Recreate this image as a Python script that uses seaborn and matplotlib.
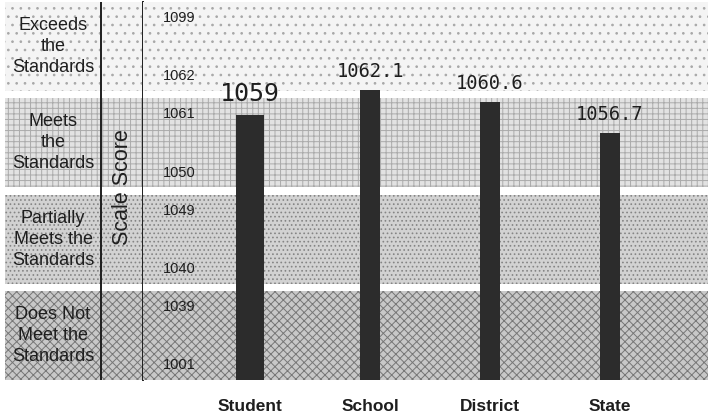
import numpy as np
import pandas as pd
import matplotlib
matplotlib.use('Agg')
import matplotlib.pyplot as plt
import seaborn as sns

# Chart data
groups = ['Student', 'School', 'District', 'State']
scores = [1059.0, 1062.1, 1060.6, 1056.7]
score_labels = ['1059', '1062.1', '1060.6', '1056.7']

# Performance levels, bottom to top
levels = [
    'Does Not\nMeet the\nStandards',
    'Partially\nMeets the\nStandards',
    'Meets\nthe\nStandards',
    'Exceeds\nthe\nStandards',
]
level_low = [1001, 1040, 1050, 1062]
level_high = [1039, 1049, 1061, 1099]

# Band looks (scanned screen tones)
band_faces = ['#c8c8c8', '#d2d2d2', '#e2e2e2', '#f4f4f4']
band_hatches = ['xxxx', '....', '+++', '..']
band_hatch_colors = ['#777777', '#858585', '#ababab', '#a8a8a8']
bar_color = '#2c2c2c'
text_color = '#1e1e1e'

# Each level gets the same height on the axis: piecewise linear scale
GAP = 0.04
knot_vals, knot_pos = [], []
for i, (lo, hi) in enumerate(zip(level_low, level_high)):
    knot_vals += [lo, hi]
    knot_pos += [i + GAP, i + 1 - GAP]
knot_vals = np.array(knot_vals, dtype=float)
knot_pos = np.array(knot_pos, dtype=float)


def forward(v):
    return np.interp(v, knot_vals, knot_pos)


def inverse(p):
    return np.interp(p, knot_pos, knot_vals)


sns.set_style('white')
plt.rcParams['font.family'] = ['Liberation Sans', 'DejaVu Sans']
plt.rcParams['hatch.linewidth'] = 0.7

W, H = 708, 417
fig = plt.figure(figsize=(W / 100, H / 100), dpi=100)
bottom_px, top_px = 380, 2
ax_left = fig.add_axes([5 / W, 1 - bottom_px / H, (143 - 5) / W, (bottom_px - top_px) / H])
ax = fig.add_axes([143 / W, 1 - bottom_px / H, (W - 143) / W, (bottom_px - top_px) / H])

# Background bands in both panels
for a in (ax_left, ax):
    a.set_yscale('function', functions=(forward, inverse))
    for lo, hi, fc, hatch, hc in zip(level_low, level_high, band_faces,
                                     band_hatches, band_hatch_colors):
        a.axhspan(lo, hi, facecolor=fc, edgecolor=hc, hatch=hatch, lw=0, zorder=0)

# Bars (student bar is drawn wider)
df = pd.DataFrame({'group': groups, 'score': scores})
sns.barplot(data=df.iloc[:1], x='group', y='score', order=groups, width=0.23,
            color=bar_color, saturation=1, errorbar=None, ax=ax, zorder=2,
            linewidth=0)
sns.barplot(data=df.iloc[1:], x='group', y='score', order=groups, width=0.16,
            color=bar_color, saturation=1, errorbar=None, ax=ax, zorder=2,
            linewidth=0)

ax.bar_label(ax.containers[0], labels=score_labels[:1], padding=6, fontsize=18,
             family='DejaVu Sans Mono', color=text_color)
ax.bar_label(ax.containers[1], labels=score_labels[1:], padding=6.5, fontsize=13.5,
             family='DejaVu Sans Mono', color=text_color)

ax.set_ylim(level_low[0], level_high[-1])
ax_left.set_ylim(level_low[0], level_high[-1])
ax.set_xlim(-0.892, 3.817)
ax_left.set_xlim(0, 1)

# Level range labels inside the bands
for lo, hi in zip(level_low, level_high):
    ax.annotate(str(hi), xy=(0.035, hi), xycoords=ax.get_yaxis_transform(),
                xytext=(0, -6.5), textcoords='offset points', va='top', ha='left',
                fontsize=10.5, color=text_color)
    ax.annotate(str(lo), xy=(0.035, lo), xycoords=ax.get_yaxis_transform(),
                xytext=(0, 5.5), textcoords='offset points', va='bottom', ha='left',
                fontsize=10.5, color=text_color)

# Level names in the left column
for name, lo, hi in zip(levels, level_low, level_high):
    ax_left.text(0.348, inverse((forward(lo) + forward(hi)) / 2), name,
                 ha='center', va='center', fontsize=13, color=text_color,
                 linespacing=1.3)
ax_left.text(0.848, 0.51, 'Scale Score', transform=ax_left.transAxes, rotation=90,
             ha='center', va='center', fontsize=15.5, color=text_color)
ax_left.axvline(0.696, color='#1e1e1e', lw=1.4, zorder=3)

# Axes cosmetics
ax.set_xlabel('')
ax.set_ylabel('')
ax.tick_params(axis='y', left=False, labelleft=False)
ax.tick_params(axis='x', bottom=False, pad=10, labelsize=12.5, labelcolor=text_color)
for lab in ax.get_xticklabels():
    lab.set_fontweight('semibold')
ax_left.set_xticks([])
ax_left.tick_params(axis='y', left=False, labelleft=False)
for s in ax.spines.values():
    s.set_visible(False)
for name, s in ax_left.spines.items():
    s.set_visible(name == 'right')
ax_left.spines['right'].set_linewidth(1.4)
ax_left.spines['right'].set_color('#1e1e1e')

fig.savefig('out.png', dpi=100)
